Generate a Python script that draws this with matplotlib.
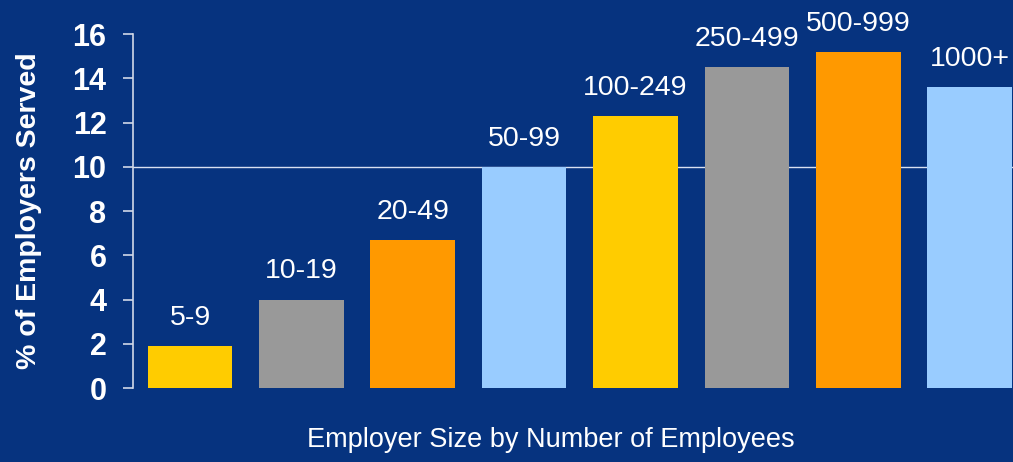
import matplotlib
matplotlib.use('Agg')
import matplotlib.pyplot as plt

# data
categories = ['5-9', '10-19', '20-49', '50-99', '100-249', '250-499', '500-999', '1000+']
values = [1.9, 4.0, 6.7, 10.0, 12.3, 14.5, 15.2, 13.6]
bar_colors = ['#ffcc00', '#999999', '#ff9900', '#99ccff',
              '#ffcc00', '#999999', '#ff9900', '#99ccff']
yticks = [0, 2, 4, 6, 8, 10, 12, 14, 16]

bg = '#06337f'
plt.rcParams['font.family'] = ['Liberation Sans', 'DejaVu Sans']

fig = plt.figure(figsize=(10.13, 4.62), dpi=100, facecolor=bg)
ax = fig.add_axes([0.1313, 0.160, 0.8687, 0.766], facecolor=bg)

x = range(len(categories))
ax.axhline(10, color='#d8e0f0', lw=1, zorder=1)
ax.bar(x, values, width=0.76, color=bar_colors, zorder=2)

# labels above bars
for xi, v, lab in zip(x, values, categories):
    ax.annotate(lab, (xi, v), xytext=(0, 11), textcoords='offset points',
                ha='center', va='bottom', color='white', fontsize=20.5)

ax.set_xlim(-0.512, 7.39)
ax.set_ylim(0, 16)
ax.set_yticks(yticks)
ax.set_yticklabels([str(t) for t in yticks], fontsize=22, fontweight='bold', color='white')
ax.tick_params(axis='y', colors='#d0d8e8', length=7, width=1.2, pad=12, labelcolor='white')
ax.set_xticks([])

for s in ['top', 'right', 'bottom']:
    ax.spines[s].set_visible(False)
ax.spines['left'].set_color('#d0d8e8')
ax.spines['left'].set_linewidth(1.2)

ax.set_ylabel('% of Employers Served', fontsize=20.5, fontweight='bold', color='white', labelpad=22)
fig.text(0.544, 0.048, 'Employer Size by Number of Employees', ha='center', va='center',
         fontsize=19.5, color='white')

fig.savefig('out.png', dpi=100, facecolor=bg)
